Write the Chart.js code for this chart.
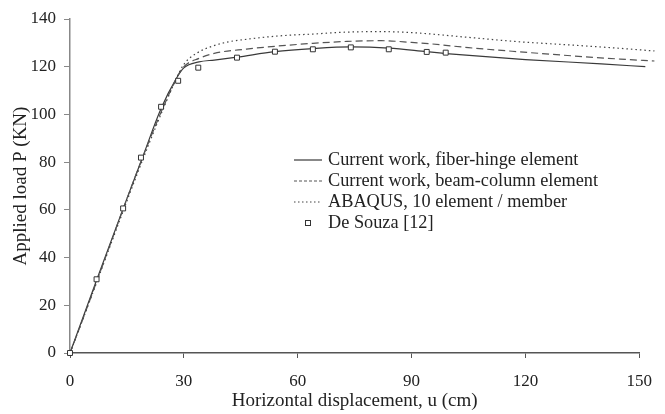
<!DOCTYPE html>
<html lang="en">
<head>
  <meta charset="UTF-8">
  <title>Load-displacement curve</title>
  <style>
    body { margin: 0; background: #fff; }
    .wrap { width: 665px; height: 414px; }
  </style>
  <script src="https://cdn.jsdelivr.net/npm/chart.js"></script>
</head>
<body>
  <div class="wrap"><canvas id="chart" width="665" height="414"></canvas></div>
  <script>
    // values (u in cm, P in kN)
    const fiberU = [0, 7, 14, 19, 24, 28, 30, 34, 38, 44, 54, 64, 74, 84, 94, 100, 120, 140, 151.6];
    const fiberP = [0, 30.5, 60.5, 81.5, 102.5, 115, 119.5, 122, 122.8, 124, 126.3, 127.6, 128.3, 127.8, 126.3, 125.4, 123, 121.2, 120];

    const beamU = [0, 28, 30, 34, 38, 46.5, 55, 64, 73, 82, 90, 95, 105, 118, 132, 145, 154];
    const beamP = [0, 115, 120, 123.5, 125.6, 127.4, 128.7, 129.8, 130.6, 130.9, 130.2, 129.6, 128, 126.3, 124.6, 123.2, 122.4];

    const abaqusU = [0, 28, 30, 33.3, 37.7, 42, 46.5, 55, 64, 73, 82, 90, 105, 118, 132, 145, 154];
    const abaqusP = [0, 115, 121, 125.6, 128.7, 130.5, 131.5, 132.9, 133.7, 134.5, 134.7, 134.3, 132.3, 130.5, 129.1, 127.7, 126.6];

    const souzaU = [0, 7, 14, 18.7, 24, 28.5, 33.8, 44, 54, 64, 74, 84, 94, 99];
    const souzaP = [0, 30.9, 60.6, 81.9, 103.2, 114.1, 119.6, 123.8, 126.3, 127.3, 128.1, 127.3, 126.2, 125.9];

    const xTicks = [0, 30, 60, 90, 120, 150];
    const yTicks = [0, 20, 40, 60, 80, 100, 120, 140];

    const legendLabels = [
      'Current work, fiber-hinge element',
      'Current work, beam-column element',
      'ABAQUS, 10 element / member',
      'De Souza [12]'
    ];

    const FONT = '"Liberation Serif", "Times New Roman", serif';
    const pts = (xs, ys) => xs.map((x, i) => ({ x: x, y: ys[i] }));

    // legend drawn inside the plot, like the original figure
    const innerLegend = {
      id: 'innerLegend',
      afterDraw(chart) {
        const ctx = chart.ctx;
        const rows = [160, 181, 202, 223];
        const x0 = 294, x1 = 322, tx = 328;
        ctx.save();
        ctx.font = '18.3px ' + FONT;
        ctx.textBaseline = 'middle';
        chart.data.datasets.forEach((ds, i) => {
          const y = rows[i];
          if (ds.showLine === false) {
            ctx.strokeStyle = '#333';
            ctx.lineWidth = 1;
            ctx.strokeRect(x0 + 11.5, y - 2.5, 5, 5);
          } else {
            ctx.strokeStyle = ds.borderColor;
            ctx.lineWidth = ds.borderWidth;
            ctx.setLineDash(ds.legendDash || []);
            ctx.beginPath();
            ctx.moveTo(x0, y);
            ctx.lineTo(x1, y);
            ctx.stroke();
            ctx.setLineDash([]);
          }
          ctx.fillStyle = '#222';
          ctx.fillText(legendLabels[i], tx, y);
        });
        ctx.restore();
      }
    };

    new Chart(document.getElementById('chart'), {
      type: 'scatter',
      data: {
        datasets: [
          {
            data: pts(fiberU, fiberP), showLine: true, borderColor: '#3a3a3a', borderWidth: 1.2,
            pointRadius: 0, cubicInterpolationMode: 'monotone', clip: false, order: 3
          },
          {
            data: pts(beamU, beamP), showLine: true, borderColor: '#555', borderWidth: 1.2,
            borderDash: [7, 4], legendDash: [3, 2], pointRadius: 0, cubicInterpolationMode: 'monotone', clip: false, order: 2
          },
          {
            data: pts(abaqusU, abaqusP), showLine: true, borderColor: '#444', borderWidth: 1.2,
            borderDash: [1.5, 3], legendDash: [1.5, 2.5], pointRadius: 0, cubicInterpolationMode: 'monotone', clip: false, order: 1
          },
          {
            data: pts(souzaU, souzaP), showLine: false, pointStyle: 'rect', pointRadius: 3.5,
            pointBackgroundColor: '#fff', pointBorderColor: '#333', pointBorderWidth: 1, clip: false, order: 0
          }
        ]
      },
      options: {
        responsive: false,
        animation: false,
        layout: { padding: { top: 19, right: 25, left: 0, bottom: 0 } },
        plugins: { legend: { display: false }, tooltip: { enabled: false } },
        scales: {
          x: {
            type: 'linear', min: 0, max: 150,
            afterBuildTicks: s => { s.ticks = xTicks.map(v => ({ value: v })); },
            afterFit: s => { s.height = 61; },
            grid: { drawOnChartArea: false, drawTicks: true, tickLength: 5, color: '#555' },
            border: { color: '#555', width: 1.5 },
            ticks: { font: { family: FONT, size: 17 }, color: '#222', padding: 13, maxRotation: 0 },
            title: { display: true, text: 'Horizontal displacement, u (cm)', font: { family: FONT, size: 19 }, color: '#222', padding: { top: 0, bottom: 2 } }
          },
          y: {
            type: 'linear', min: 0, max: 140,
            afterBuildTicks: s => { s.ticks = yTicks.map(v => ({ value: v })); },
            afterFit: s => { s.width = 70; },
            grid: { drawOnChartArea: false, drawTicks: true, tickLength: 6, color: '#888' },
            border: { color: '#888', width: 1.5 },
            ticks: { font: { family: FONT, size: 17 }, color: '#222', padding: 8 },
            title: { display: true, text: 'Applied load P (KN)', font: { family: FONT, size: 19 }, color: '#222', padding: { top: 10, bottom: 0 } }
          }
        }
      },
      plugins: [innerLegend]
    });
  </script>
</body>
</html>
